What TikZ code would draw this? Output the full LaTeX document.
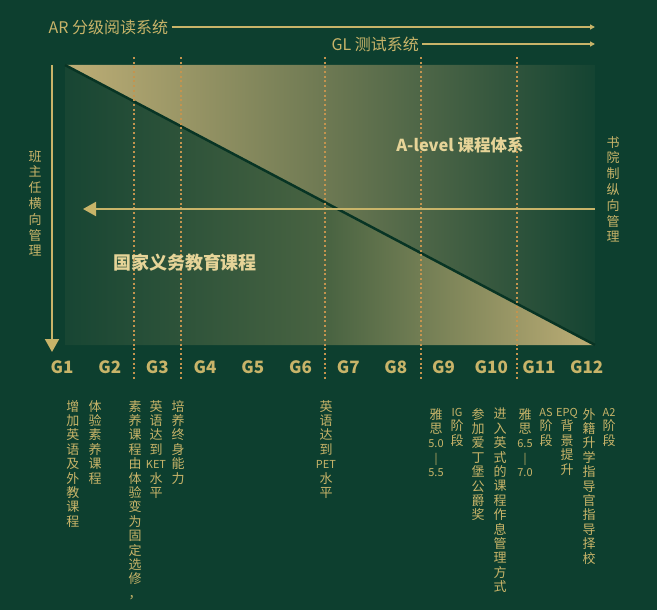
\documentclass[tikz,border=0pt]{standalone}
\usepackage{fontspec}
\setmainfont{Noto Sans CJK SC}
\usetikzlibrary{arrows.meta}
\definecolor{gruen}{RGB}{13,63,47}
\definecolor{gold}{RGB}{200,180,105}
\definecolor{hell}{RGB}{230,212,152}
\definecolor{sand}{RGB}{190,174,118}
\definecolor{punkt}{RGB}{196,148,78}
\definecolor{dunkel}{RGB}{8,52,36}
\definecolor{mitteoben}{RGB}{108,120,82}
\definecolor{mitteunten}{RGB}{74,100,66}
\newcommand\klein[1]{{\fontsize{11}{11}\selectfont #1}}
\tikzset{pfeil/.style = {gold, line width=2pt, -{Triangle[length=13pt,width=14pt]}}}
\tikzset{kpfeil/.style = {gold, line width=1.4pt, -{Triangle[length=5pt,width=5pt]}}}
\tikzset{jahr/.style = {gold, font=\fontsize{17}{17}\selectfont\bfseries}}
\tikzset{spalte/.style = {gold, anchor=north, align=center, inner sep=0pt, font=\fontsize{13}{14.4}\selectfont}}
\tikzset{seite/.style = {spalte, font=\fontsize{13}{15.8}\selectfont}}
\tikzset{punktlinie/.style = {punkt, line width=1.8pt, dash pattern=on 2pt off 2.7pt}}
\tikzset{kopf/.style = {gold, font=\fontsize{16}{16}\selectfont, anchor=west}}
\tikzset{titel/.style = {hell, font=\bfseries}}

\begin{document}
\begin{tikzpicture}[x=1pt,y=-1pt]
\fill[gruen] (0,0) rectangle (657,610);

\coordinate (oben) at (65,65);
\coordinate (ecke) at (595,65);
\coordinate (spitze) at (595,345);
\coordinate (unten) at (65,345);

\shade[left color=sand, right color=gruen!96!sand, middle color=mitteoben] (oben) -- (ecke) -- (spitze) -- cycle;
\shade[left color=gruen!94!sand, right color=sand, middle color=mitteunten] (oben) -- (unten) -- (spitze) -- cycle;
\draw[dunkel, line width=2.5pt] (oben) -- (spitze);

\foreach \x in {134,181,325,421,517}
  \draw[punktlinie] (\x,57) -- (\x,380);

% Pfeile
\coordinate (rechts) at (595,209);
\coordinate (links) at (83,209);
\draw[pfeil] (rechts) -- (links);
\coordinate (vanf) at (52,65);
\coordinate (vend) at (52,352);
\draw[pfeil] (vanf) -- (vend);

\node[kopf] (ar) at (45,27) {AR 分级阅读系统};
\coordinate (arende) at (595,27);
\draw[kpfeil] (ar) -- (arende);
\node[kopf] (gl) at (328,44) {GL 测试系统};
\coordinate (glende) at (595,44);
\draw[kpfeil] (gl) -- (glende);

\node[titel, font=\fontsize{16.5}{16.5}\selectfont\bfseries] (alevel) at (460,145) {A-level 课程体系};
\node[titel, font=\fontsize{18}{18}\selectfont\bfseries] (staat) at (185,263) {国家义务教育课程};

\node[seite] (bzr) at (35,150) {班\\主\\任\\横\\向\\管\\理};
\node[seite] (sy) at (613,136) {书\\院\\制\\纵\\向\\管\\理};

\foreach \i in {1,...,12}
  \node[jahr] (g\i) at ({62+47.7*(\i-1)},367) {G\i};

\node[spalte] (s1) at (73,400) {增\\加\\英\\语\\及\\外\\教\\课\\程};
\node[spalte] (s2) at (95,400) {体\\验\\素\\养\\课\\程};
\node[spalte] (s3) at (135,400) {素\\养\\课\\程\\由\\体\\验\\变\\为\\固\\定\\选\\修\\，};
\node[spalte] (s4) at (156,400) {英\\语\\达\\到\\\klein{KET}\\水\\平};
\node[spalte] (s5) at (178,400) {培\\养\\终\\身\\能\\力};
\node[spalte] (s6) at (326,400) {英\\语\\达\\到\\\klein{PET}\\水\\平};
\node[spalte] (s7) at (436,408) {雅\\思\\\klein{5.0}\\\klein{|}\\\klein{5.5}};
\node[spalte] (s8) at (457,408) {\klein{IG}\\阶\\段};
\node[spalte] (s9) at (478,408) {参\\加\\爱\\丁\\堡\\公\\爵\\奖};
\node[spalte] (s10) at (500,408) {进\\入\\英\\式\\的\\课\\程\\作\\息\\管\\理\\方\\式};
\node[spalte] (s11) at (525,408) {雅\\思\\\klein{6.5}\\\klein{|}\\\klein{7.0}};
\node[spalte] (s12) at (546,408) {\klein{AS}\\阶\\段};
\node[spalte] (s13) at (567,408) {\klein{EPQ}\\背\\景\\提\\升};
\node[spalte] (s14) at (589,408) {外\\籍\\升\\学\\指\\导\\官\\指\\导\\择\\校};
\node[spalte] (s15) at (609,408) {\klein{A2}\\阶\\段};
\end{tikzpicture}
\end{document}
